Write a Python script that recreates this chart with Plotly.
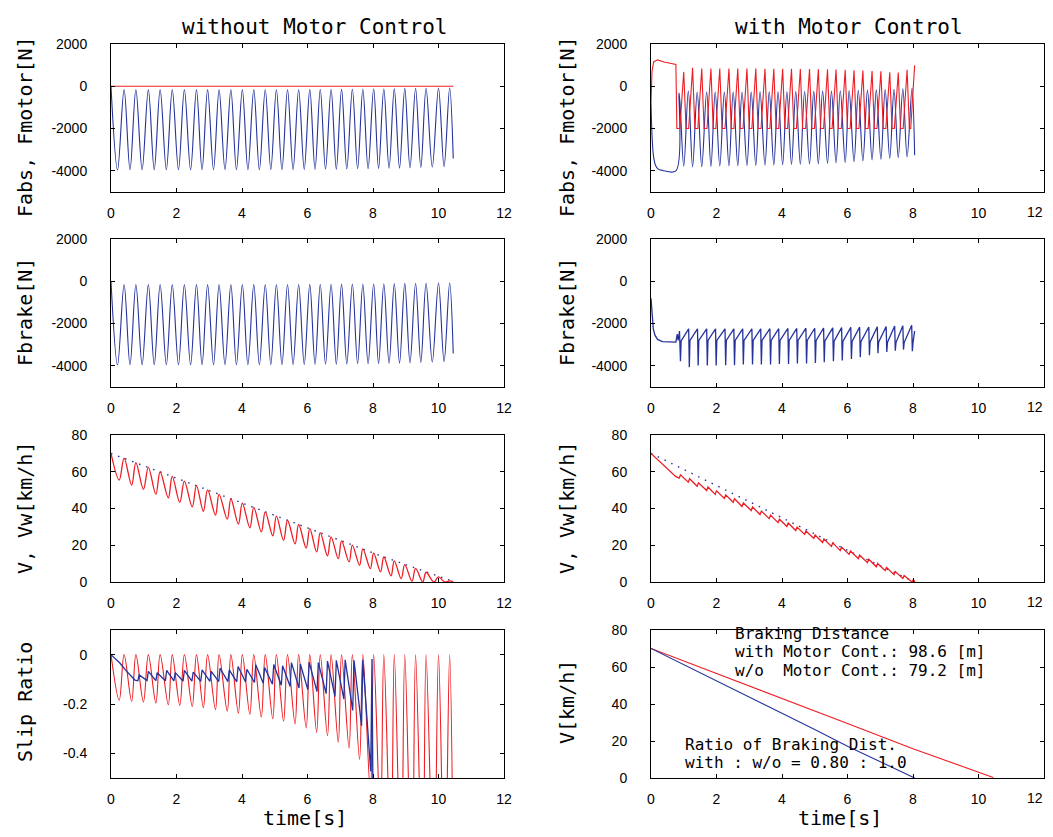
import plotly.graph_objects as go

# ======================= DATA =======================
# ---------- without motor control ----------
WO_PEAK_T = [0.40, 0.76, 1.14, 1.50, 1.87, 2.24, 2.61, 2.95, 3.30, 3.66, 4.01, 4.36, 4.71, 5.05, 5.39,
             5.73, 6.07, 6.39, 6.72, 7.04, 7.37, 7.69, 8.02, 8.33, 8.65, 8.97, 9.30, 9.62, 10.00, 10.34]
WO_FABS_PEAK = [-160, -160, -160, -160, -160, -160, -160, -160, -160, -160, -160, -160, -155, -155, -150,
                -150, -145, -140, -140, -135, -130, -125, -120, -115, -110, -100, -95, -90, -80, -80]
WO_FABS_TROUGH_T = [0.20, 0.58, 0.95, 1.32, 1.69, 2.06, 2.43, 2.78, 3.13, 3.48, 3.83, 4.18, 4.53, 4.88, 5.22,
                    5.56, 5.90, 6.23, 6.55, 6.88, 7.20, 7.53, 7.85, 8.17, 8.49, 8.81, 9.13, 9.46, 9.81, 10.17]
WO_FABS_TROUGH = [-3960, -3950, -3950, -3950, -3950, -3950, -3950, -3950, -3950, -3950, -3950, -3950, -3950,
                  -3940, -3940, -3940, -3930, -3930, -3920, -3920, -3910, -3900, -3900, -3890, -3880, -3870,
                  -3860, -3840, -3820, -3800]
WO_FABS_EDGE_T = [0.0, 10.45]
WO_FABS_EDGE = [0, -3420]
WO_FMOTOR_T = [0.0, 10.45]
WO_FMOTOR = [0, 0]

WO_V_T = [0.0, 2.0, 4.0, 6.0, 8.0, 10.0, 10.45]
WO_V = [70.0, 56.6, 43.0, 29.5, 15.8, 3.0, 0.3]
WO_VW_TROUGH_T = [0.25, 0.63, 0.99, 1.37, 1.75, 2.10, 2.48, 2.82, 3.19, 3.55, 3.89, 4.24, 4.59, 4.94, 5.27,
                  5.62, 5.96, 6.28, 6.61, 6.94, 7.27, 7.59, 7.92, 8.23, 8.55, 8.86, 9.19, 9.52, 9.86, 10.19]
WO_VW_TROUGH = [55.5, 52.7, 50.4, 47.8, 45.8, 43.3, 40.9, 38.5, 36.4, 34.2, 31.5, 29.5, 27.3, 25.1, 22.7,
                20.7, 18.5, 16.4, 14.2, 12.7, 10.9, 9.1, 7.3, 5.5, 3.3, 1.8, 0.4, 0.0, 0.0, 0.0]
WO_VW_PEAK = [67.4, 65.0, 62.4, 60.0, 57.5, 54.9, 52.4, 50.1, 47.7, 45.3, 42.9, 40.6, 38.2, 35.9, 33.6,
              31.3, 29.0, 26.9, 24.6, 22.4, 20.1, 18.0, 15.7, 13.6, 11.5, 9.5, 7.4, 5.3, 2.8, 0.6]
WO_VW_EDGE_T = [0.0, 10.45]
WO_VW_EDGE = [70.0, 0.2]

WO_SLIP_TROUGH = [-0.185, -0.189, -0.192, -0.196, -0.203, -0.205, -0.210, -0.215, -0.223, -0.229, -0.237,
                  -0.242, -0.253, -0.260, -0.270, -0.281, -0.297, -0.315, -0.329, -0.356, -0.379, -0.425,
                  -0.56, -0.70, -0.85, -0.95, -1.0, -1.0, -1.0, -1.0]
WO_SLIP_PEAK = [0.0, 0.0, 0.0, 0.0, 0.0, 0.0, 0.0, 0.0, 0.0, 0.0, 0.0, 0.0, 0.0, 0.0, 0.0,
                0.0, 0.0, 0.0, 0.0, 0.0, 0.0, 0.0, 0.0, 0.0, 0.0, 0.0, 0.0, 0.0, 0.0, 0.0]
WO_SLIP_EDGE_T = [0.0, 10.45]
WO_SLIP_EDGE = [0.0, -0.9]

# ---------- with motor control ----------
W_PEAK_T = [0.86, 1.14, 1.41, 1.70, 1.96, 2.24, 2.51, 2.78, 3.06, 3.33, 3.61, 3.88, 4.15, 4.42,
            4.69, 4.97, 5.24, 5.51, 5.78, 6.05, 6.33, 6.61, 6.88, 7.15, 7.42, 7.69, 7.97]
W_FABS_PEAK = [-315, -220, -270, -270, -270, -270, -270, -270, -270, -265, -260, -260, -255, -250,
               -245, -240, -230, -220, -210, -200, -190, -180, -170, -160, -140, -120, -80]
W_TROUGH_T = [1.00, 1.27, 1.55, 1.83, 2.10, 2.38, 2.65, 2.93, 3.20, 3.48, 3.75, 4.02, 4.29, 4.56,
              4.84, 5.11, 5.39, 5.65, 5.93, 6.20, 6.47, 6.75, 7.02, 7.29, 7.55, 7.82]
W_FABS_TROUGH = [-3780, -3810, -3800, -3790, -3780, -3770, -3760, -3750, -3740, -3730, -3720, -3710, -3700,
                 -3690, -3680, -3670, -3650, -3630, -3600, -3570, -3530, -3490, -3450, -3410, -3370, -3340]
W_FABS_EDGE_T = [0.0, 0.04, 0.08, 0.14, 0.22, 0.35, 0.76, 8.05]
W_FABS_EDGE = [-800, -2600, -3350, -3750, -3920, -3980, -4000, -3260]

W_FMOTOR_EDGE_T = [0.0, 0.03, 0.08, 0.20, 0.40, 0.60, 0.76, 0.79, 8.05]
W_FMOTOR_EDGE = [-800, 700, 1150, 1250, 1150, 1070, 1030, -2000, 990]
W_FMOTOR_PEAK = [680, 870, 840, 840, 840, 840, 840, 840, 835, 830, 830, 830, 825, 820,
                 815, 810, 800, 790, 780, 760, 740, 720, 710, 660, 650, 780]
W_FMOTOR_FLOOR = -2000
MOTOR_RISE_S = 0.12
MOTOR_FALL_S = 0.07

W_FBRAKE_EDGE_T = [0.0, 0.03, 0.07, 0.12, 0.20, 0.35, 0.55, 0.76, 0.80, 0.83, 0.87, 8.00, 8.05]
W_FBRAKE_EDGE = [-800, -1700, -2250, -2550, -2750, -2850, -2880, -2880, -2500, -2800, -2350, -2900, -2350]
W_FBRAKE_SPIKE_T = [0.90, 1.17, 1.44, 1.72, 1.99, 2.28, 2.55, 2.82, 3.10, 3.37, 3.65, 3.92, 4.20, 4.47,
                    4.75, 5.02, 5.29, 5.57, 5.84, 6.12, 6.39, 6.67, 6.93, 7.20, 7.46, 7.71, 7.98]
W_FBRAKE_SPIKE = [-3780, -4060, -3980, -3980, -3980, -3970, -3970, -3940, -3940, -3940, -3940, -3910, -3910,
                  -3890, -3890, -3860, -3830, -3780, -3750, -3670, -3590, -3500, -3400, -3340, -3280, -3230,
                  -3310]
W_FBRAKE_REC = [-2820, -2800, -2800, -2800, -2800, -2800, -2800, -2800, -2800, -2800, -2800, -2800, -2800,
                -2800, -2800, -2810, -2820, -2830, -2840, -2850, -2860, -2870, -2880, -2890, -2900, -2900]
W_FBRAKE_PEAK = [-2250, -2250, -2250, -2250, -2250, -2250, -2250, -2250, -2250, -2240, -2240, -2230, -2230,
                 -2220, -2220, -2210, -2200, -2190, -2180, -2170, -2160, -2150, -2140, -2120, -2100, -2080]

W_V_T = [0.0, 1.0, 2.0, 3.0, 4.0, 5.0, 6.0, 7.0, 8.05]
W_V = [70.0, 61.3, 52.6, 44.0, 35.3, 26.2, 17.2, 8.6, 0.0]
W_VW_EDGE_T = [0.0, 0.76, 8.06]
W_VW_EDGE = [70.0, 57.3, 0.0]
W_VW_LOW = [56.5, 54.3, 52.1, 49.8, 47.7, 45.5, 43.4, 41.1, 38.9, 36.7, 34.5, 32.3, 30.2, 28.0,
            25.9, 23.7, 21.5, 19.4, 17.1, 15.0, 12.7, 10.5, 8.3, 6.2, 4.0, 1.9, 0.0]
W_VW_HUMP = [58.3, 56.2, 54.0, 51.7, 49.6, 47.4, 45.3, 43.0, 40.8, 38.6, 36.4, 34.2, 32.1, 29.9,
             27.8, 25.6, 23.4, 21.3, 19.0, 16.9, 14.6, 12.4, 10.1, 8.0, 5.7, 3.5, 1.2]
VW_HUMP_S = 0.04

W_SLIP_EDGE_T = [0.0, 0.27, 0.48, 0.73, 0.82, 8.02]
W_SLIP_EDGE = [0.0, -0.034, -0.068, -0.103, -0.106, -1.0]
W_SLIP_PEAK = [-0.082, -0.068, -0.073, -0.064, -0.073, -0.064, -0.071, -0.062, -0.068, -0.055, -0.062,
               -0.048, -0.059, -0.041, -0.052, -0.040, -0.045, -0.032, -0.038, -0.030, -0.032, -0.026,
               -0.023, -0.021, -0.023, -0.021, -0.018]
W_SLIP_TROUGH = [-0.105, -0.105, -0.106, -0.106, -0.107, -0.107, -0.108, -0.108, -0.109, -0.109, -0.110,
                 -0.111, -0.113, -0.116, -0.120, -0.124, -0.129, -0.135, -0.142, -0.150, -0.158, -0.170,
                 -0.180, -0.226, -0.288, -0.473]
SLIP_DROP_LEAD_S = 0.04

FORCE_TICKS = [-4000, -2000, 0, 2000]
FORCE_TICKTEXT = ["-4000", "-2000", "0", "2000"]
SPEED_TICKS = [0, 20, 40, 60, 80]
SLIP_TICKS = [-0.4, -0.2, 0]
SLIP_TICKTEXT = ["-0.4", "-0.2", "0"]
TIME_TICKS = [0, 2, 4, 6, 8, 10, 12]
TIME_TICKTEXT_LEFT = ["0", "2", "4", "6", "8", "10", "12"]
# the last right-hand label is drawn as a right-anchored text so it stays inside the page
TIME_TICKTEXT_RIGHT = ["0", "2", "4", "6", "8", "10", ""]
LAST_TIME_LABEL = "12"

TITLES = ["without Motor Control", "with Motor Control"]
YTITLES_LEFT = ["Fabs, Fmotor[N]", "Fbrake[N]", "V, Vw[km/h]", "Slip Ratio"]
YTITLES_RIGHT = ["Fabs, Fmotor[N]", "Fbrake[N]", "V, Vw[km/h]", "V[km/h]"]
XTITLE = "time[s]"
NOTE_DIST = ["Braking Distance", "with Motor Cont.: 98.6 [m]", "w/o\u00a0 Motor Cont.: 79.2 [m]"]
NOTE_RATIO = ["Ratio of Braking Dist.", "with : w/o = 0.80 : 1.0"]


# ======================= helpers =======================
def merge(*series):
    pts = []
    for ts, vs in series:
        pts.extend(zip(ts, vs))
    pts.sort(key=lambda p: p[0])
    return [p[0] for p in pts], [p[1] for p in pts]


def shift(ts, d):
    return [t + d for t in ts]


BLUE = "#24329c"
RED = "#ee1d23"

# the page body keeps its default 8 px margin, so the figure starts at (8, 8)
PAGE_OFF = 8
W, H = 1053, 837 - 2 * PAGE_OFF


def px(x):
    return (x - PAGE_OFF) / W


def py(y):
    return 1 - (y - PAGE_OFF) / H


ROW_BOTTOM = [192, 387, 582, 778]
ROW_TOP = [44, 239, 435, 630]
XDOM = [[px(111), px(504)], [px(651), px(1044)]]
YDOM = [[py(b), py(t)] for b, t in zip(ROW_BOTTOM, ROW_TOP)]

fig = go.Figure()


def axn(row, col):
    return row * 2 + col + 1


def add(row, col, x, y, color, shape="linear", dash="solid", width=1.1):
    n = axn(row, col)
    fig.add_trace(go.Scatter(
        x=x, y=y, mode="lines",
        line=dict(color=color, width=width, shape=shape, dash=dash,
                  smoothing=1.0 if shape == "spline" else None),
        xaxis="x" if n == 1 else f"x{n}", yaxis="y" if n == 1 else f"y{n}",
        hoverinfo="skip", showlegend=False))


# ---- left column ----
fabs_wo = merge((WO_FABS_EDGE_T, WO_FABS_EDGE), (WO_PEAK_T, WO_FABS_PEAK),
                (WO_FABS_TROUGH_T, WO_FABS_TROUGH))
add(0, 0, WO_FMOTOR_T, WO_FMOTOR, RED)
add(0, 0, *fabs_wo, BLUE, "spline")
add(1, 0, *fabs_wo, BLUE, "spline")

add(2, 0, WO_V_T, WO_V, BLUE, dash="1.5px,6px", width=1.4)
vw_wo = merge((WO_VW_EDGE_T, WO_VW_EDGE), (WO_PEAK_T, WO_VW_PEAK), (WO_VW_TROUGH_T, WO_VW_TROUGH))
add(2, 0, *vw_wo, RED, "spline", width=1.3)

slip_wo = merge((WO_SLIP_EDGE_T, WO_SLIP_EDGE), (WO_PEAK_T, WO_SLIP_PEAK), (WO_VW_TROUGH_T, WO_SLIP_TROUGH))
add(3, 0, *slip_wo, RED, "spline")
slip_w = merge((W_SLIP_EDGE_T, W_SLIP_EDGE), (W_PEAK_T, W_SLIP_PEAK),
               (shift(W_PEAK_T[1:], -SLIP_DROP_LEAD_S), W_SLIP_TROUGH))
add(3, 0, *slip_w, BLUE, width=1.3)

# ---- right column ----
fabs_w = merge((W_FABS_EDGE_T, W_FABS_EDGE), (W_PEAK_T, W_FABS_PEAK), (W_TROUGH_T, W_FABS_TROUGH))
add(0, 1, *fabs_w, BLUE, "spline")
floor_vals = [W_FMOTOR_FLOOR for _ in W_TROUGH_T]
fmotor_w = merge((W_FMOTOR_EDGE_T, W_FMOTOR_EDGE), (W_TROUGH_T, W_FMOTOR_PEAK),
                 (shift(W_TROUGH_T, -MOTOR_RISE_S), floor_vals),
                 (shift(W_TROUGH_T, MOTOR_FALL_S), floor_vals),
                 ([W_FMOTOR_EDGE_T[-1] - MOTOR_RISE_S], [W_FMOTOR_FLOOR]))
add(0, 1, *fmotor_w, RED)

fbrake_w = merge((W_FBRAKE_EDGE_T, W_FBRAKE_EDGE), (W_FBRAKE_SPIKE_T, W_FBRAKE_SPIKE),
                 (shift(W_FBRAKE_SPIKE_T[:-1], 0.02), W_FBRAKE_REC),
                 (shift(W_FBRAKE_SPIKE_T[1:], -0.02), W_FBRAKE_PEAK))
add(1, 1, *fbrake_w, BLUE, width=1.3)

add(2, 1, W_V_T, W_V, BLUE, dash="1.5px,6px", width=1.4)
vw_w = merge((W_VW_EDGE_T, W_VW_EDGE), (W_PEAK_T, W_VW_LOW), (shift(W_PEAK_T, VW_HUMP_S), W_VW_HUMP))
add(2, 1, *vw_w, RED, width=1.3)

add(3, 1, WO_V_T, WO_V, RED)
add(3, 1, W_V_T, W_V, BLUE)

# ======================= layout =======================
TICKFONT = dict(family="Liberation Sans, Arial, sans-serif", size=14, color="black")
layout = dict(width=W, height=H, margin=dict(l=0, r=0, t=0, b=0, autoexpand=False),
              paper_bgcolor="white", plot_bgcolor="white", showlegend=False)

for row in range(4):
    for col in range(2):
        n = axn(row, col)
        xs = "xaxis" if n == 1 else f"xaxis{n}"
        ys = "yaxis" if n == 1 else f"yaxis{n}"
        layout[xs] = dict(domain=XDOM[col], anchor="y" if n == 1 else f"y{n}", range=[0, 12],
                          tickvals=TIME_TICKS,
                          ticktext=TIME_TICKTEXT_LEFT if col == 0 else TIME_TICKTEXT_RIGHT,
                          ticks="inside", ticklen=4, tickcolor="black",
                          showline=True, linecolor="black", linewidth=1, mirror="ticks",
                          showgrid=False, zeroline=False, tickfont=TICKFONT, ticklabelstandoff=8,
                          ticklabeloverflow="allow", automargin=False)
        if row in (0, 1):
            yr, tv, tt = [-5000, 2000], FORCE_TICKS, FORCE_TICKTEXT
        elif row == 2 or (row == 3 and col == 1):
            yr, tv, tt = [0, 80], SPEED_TICKS, [str(v) for v in SPEED_TICKS]
        else:
            yr, tv, tt = [-0.5, 0.1], SLIP_TICKS, SLIP_TICKTEXT
        layout[ys] = dict(domain=YDOM[row], anchor="x" if n == 1 else f"x{n}", range=yr,
                          tickvals=tv, ticktext=tt, ticks="inside", ticklen=4, tickcolor="black",
                          showline=True, linecolor="black", linewidth=1, mirror="ticks",
                          showgrid=False, zeroline=False, tickfont=TICKFONT, ticklabelstandoff=20,
                          ticklabeloverflow="allow", automargin=False)

MONO = "DejaVu Sans Mono, Liberation Mono, monospace"
ann = []
ann.append(dict(x=px(315), y=py(27), text=TITLES[0]))
ann.append(dict(x=px(849), y=py(27), text=TITLES[1]))
for a in ann:
    a.update(xref="paper", yref="paper", showarrow=False, xanchor="center", yanchor="middle",
             font=dict(family=MONO, size=21, color="black"))

# last "12" label of each right-hand time axis, kept inside the page edge
for b in ROW_BOTTOM:
    ann.append(dict(x=px(1045), y=py(b + 20), text=LAST_TIME_LABEL, xref="paper", yref="paper",
                    showarrow=False, xanchor="right", yanchor="middle", font=TICKFONT))

YT_CENTERS = [127, 312, 508, 702]
for i, t in enumerate(YTITLES_LEFT):
    ann.append(dict(x=px(25), y=py(YT_CENTERS[i]), text=t, textangle=-90, xref="paper", yref="paper",
                    showarrow=False, xanchor="center", yanchor="middle",
                    font=dict(family=MONO, size=20, color="black")))
for i, t in enumerate(YTITLES_RIGHT):
    ann.append(dict(x=px(567), y=py(YT_CENTERS[i]), text=t, textangle=-90, xref="paper", yref="paper",
                    showarrow=False, xanchor="center", yanchor="middle",
                    font=dict(family=MONO, size=20, color="black")))
for xc in (305, 840):
    ann.append(dict(x=px(xc), y=py(818), text=XTITLE, xref="paper", yref="paper", showarrow=False,
                    xanchor="center", yanchor="middle", font=dict(family=MONO, size=20, color="black")))

for i, t in enumerate(NOTE_DIST):
    ann.append(dict(x=px(733), y=py(633 + 18.5 * i), text=t, xref="paper", yref="paper",
                    showarrow=False, xanchor="left", yanchor="middle",
                    font=dict(family=MONO, size=16, color="black")))
for i, t in enumerate(NOTE_RATIO):
    ann.append(dict(x=px(683), y=py(744 + 18.5 * i), text=t, xref="paper", yref="paper",
                    showarrow=False, xanchor="left", yanchor="middle",
                    font=dict(family=MONO, size=16, color="black")))

layout["annotations"] = ann
fig.update_layout(**layout)
fig.write_html("out.html")
